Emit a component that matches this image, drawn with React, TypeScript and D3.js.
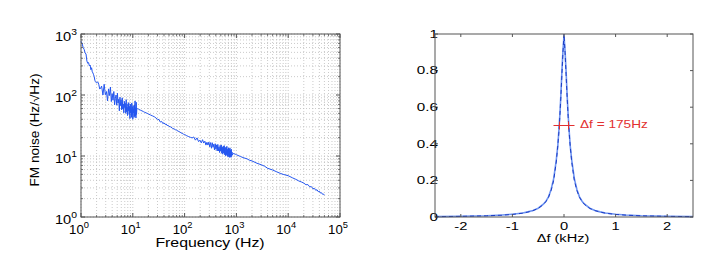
import React from 'react';
import * as d3 from 'd3';

// ---------- Left panel: FM noise spectrum (Hz/√Hz vs Hz) ----------
const freqA = [1, 1.05, 1.1, 1.15, 1.2, 1.25, 1.3, 1.35, 1.4, 1.45, 1.5, 1.55, 1.6, 1.65, 1.7, 1.75, 1.8, 1.85, 1.9, 1.95, 2.0, 2.1, 2.2, 2.3, 2.4];
const noiseA = [760, 700, 600, 560, 490, 470, 360, 330, 340, 300, 310, 260, 280, 240, 230, 215, 200, 175, 165, 160, 158, 165, 150, 125, 130];

const freqB = [2.5, 2.65, 2.8, 2.95, 3.1, 3.25, 3.4, 3.55, 3.7, 3.85, 4.0, 4.15, 4.3, 4.45, 4.6, 4.75, 4.9, 5.05, 5.2, 5.35, 5.5, 5.65, 5.8, 5.95, 6.1, 6.25, 6.4, 6.55, 6.7, 6.85, 7.0, 7.15, 7.3, 7.45, 7.6, 7.75, 7.9, 8.05, 8.2, 8.35, 8.5, 8.65, 8.8, 8.95, 9.1, 9.25, 9.4, 9.55, 9.7, 9.85, 10.0, 10.15, 10.3, 10.45, 10.6, 10.75, 10.9, 11.05, 11.2, 11.35, 11.5, 11.65, 11.8, 11.95];
const noiseB = [140, 100, 150, 101, 114, 80, 126, 98, 135, 78, 105, 82, 114, 69, 87, 100, 68, 107, 74, 85, 55, 92, 67, 83, 57, 90, 59, 71, 51, 79, 62, 73, 50, 84, 53, 63, 46, 72, 55, 75, 48, 65, 41, 71, 51, 60, 43, 74, 48, 64, 40, 67, 51, 59, 43, 69, 45, 80, 45, 62, 42, 76, 48, 58];

const freqC = [12.5, 13, 14, 15, 16, 17, 18, 19, 20, 22, 24, 26, 28, 30, 32, 34, 36, 38, 40, 42, 44, 46, 48, 50, 54, 58, 62, 66, 70, 75, 80, 85, 90, 95, 100, 110, 120, 130, 140];
const noiseC = [60, 58, 56.5, 55, 53.5, 52, 51, 50, 49, 47, 45.5, 44, 42, 40, 39.5, 36, 37, 34, 35, 33, 33.5, 31.5, 32, 30.5, 30, 28.5, 28, 27, 26.5, 25.5, 25, 24, 23.5, 22.8, 22.5, 21.5, 20.8, 20.2, 19.8];

const freqD = [150, 162, 174, 186, 198, 210, 222, 234, 246, 258, 270, 282, 294, 306, 318, 330, 342, 354, 366, 378, 390, 402, 414, 426, 438, 450, 462, 474, 486, 498, 510, 522, 534, 546, 558, 570, 582, 594, 606, 618, 630, 642, 654, 666, 678, 690, 702, 714, 726, 738, 750, 762, 774, 786, 798, 810, 822, 834];
const noiseD = [20.5, 18.2, 19.8, 17.2, 18.2, 16.4, 18.5, 16.3, 17.5, 15.1, 16.8, 15.1, 16.9, 14.1, 16.6, 13.4, 16.5, 13.9, 15.6, 12.6, 15.9, 12.9, 15.2, 12.1, 15.5, 12.1, 14.1, 11.4, 14.9, 12.0, 15.2, 11.1, 14.0, 10.7, 14.5, 11.2, 14.8, 10.5, 13.6, 10.1, 14.0, 10.5, 14.4, 10.0, 12.9, 9.6, 13.6, 10.1, 13.0, 9.5, 13.6, 9.7, 12.5, 9.5, 12.9, 9.9, 11.6, 10.4];

const freqE = [870, 950, 1000, 1200, 1400, 1600, 1800, 2000, 2500, 3000, 3500, 4000, 5000, 6000, 7000, 8000, 10000, 12000, 14000, 16000, 18000, 20000, 22000, 24000, 26000, 28000, 30000, 32000, 34000, 36000, 38000, 40000, 42000, 44000, 46000, 48000, 50000];
const noiseE = [11.0, 10.7, 10.5, 9.8, 9.3, 9.0, 8.5, 8.3, 7.6, 7.2, 6.8, 6.3, 5.9, 5.5, 5.2, 5.0, 4.75, 4.4, 4.15, 3.9, 3.75, 3.6, 3.38, 3.4, 3.12, 3.15, 2.9, 2.95, 2.74, 2.8, 2.6, 2.65, 2.47, 2.5, 2.36, 2.38, 2.28];

const leftXDecades = [0, 1, 2, 3, 4, 5];
const leftYDecades = [0, 1, 2, 3];

// ---------- Right panel: line shape vs detuning ----------
const detuning = [-2.5, -2.0, -1.5, -1.2, -1.0, -0.8, -0.7, -0.6, -0.5, -0.4, -0.35, -0.3, -0.25, -0.2, -0.15, -0.12, -0.1, -0.08, -0.06, -0.04, -0.02, 0, 0.02, 0.04, 0.06, 0.08, 0.1, 0.12, 0.15, 0.2, 0.25, 0.3, 0.35, 0.4, 0.5, 0.6, 0.7, 0.8, 1.0, 1.2, 1.5, 2.0, 2.5];
const lineMeasured = [0.002, 0.004, 0.007, 0.011, 0.015, 0.022, 0.028, 0.036, 0.048, 0.07, 0.086, 0.11, 0.15, 0.21, 0.31, 0.39, 0.47, 0.56, 0.67, 0.8, 0.91, 0.99, 0.91, 0.8, 0.67, 0.56, 0.47, 0.39, 0.31, 0.21, 0.15, 0.11, 0.086, 0.07, 0.048, 0.036, 0.028, 0.022, 0.015, 0.011, 0.007, 0.004, 0.002];
const lineFit = [0.002, 0.0035, 0.0065, 0.010, 0.014, 0.021, 0.027, 0.035, 0.047, 0.068, 0.085, 0.108, 0.145, 0.2, 0.30, 0.39, 0.46, 0.55, 0.66, 0.78, 0.9, 1.0, 0.9, 0.78, 0.66, 0.55, 0.46, 0.39, 0.30, 0.2, 0.145, 0.108, 0.085, 0.068, 0.047, 0.035, 0.027, 0.021, 0.014, 0.010, 0.0065, 0.0035, 0.002];
const fwhmEnds = [-0.0875, 0.0875];
const fwhmLevel = 0.5;
const fwhmLabel = '\u0394f = 175Hz';
const rightXTicks = [-2, -1, 0, 1, 2];
const rightYTicks = [0, 0.2, 0.4, 0.6, 0.8, 1];

const FONT = 'Liberation Sans, Arial, Helvetica, sans-serif';

function ST(props: any) {
  const { x, y, size, sx = 1.25, anchor = 'middle', fill = '#000', rotate = 0, children } = props;
  return (
    <text
      transform={`translate(${x},${y}) rotate(${rotate}) scale(${sx},1)`}
      textAnchor={anchor}
      fontSize={size}
      fill={fill}
      fontFamily={FONT}
    >
      {children}
    </text>
  );
}

export default function App() {
  const W = 723, H = 254;

  // left scales
  const lx = d3.scaleLog().domain([1, 1e5]).range([81, 340]);
  const ly = d3.scaleLog().domain([1, 1000]).range([217, 34]);
  const freq = [...freqA, ...freqB, ...freqC, ...freqD, ...freqE];
  const noise = [...noiseA, ...noiseB, ...noiseC, ...noiseD, ...noiseE];
  const pts: [number, number][] = freq.map((f, i) => [f, noise[i]]);
  const leftLine = d3.line<[number, number]>().x(d => lx(d[0])).y(d => ly(d[1]))(pts) || '';

  const xMinor: number[] = [];
  leftXDecades.slice(0, -1).forEach(k => { for (let m = 2; m <= 9; m++) xMinor.push(m * Math.pow(10, k)); });
  const yMinor: number[] = [];
  leftYDecades.slice(0, -1).forEach(k => { for (let m = 2; m <= 9; m++) yMinor.push(m * Math.pow(10, k)); });
  const xMajor = leftXDecades.map(k => Math.pow(10, k));
  const yMajor = leftYDecades.map(k => Math.pow(10, k));

  const [lx0, lx1] = lx.range();
  const [ly0, ly1] = ly.range();

  // right scales
  const rx = d3.scaleLinear().domain([-2.5, 2.5]).range([435, 693]);
  const ry = d3.scaleLinear().domain([0, 1]).range([217, 34]);
  const measPts: [number, number][] = detuning.map((d, i) => [d, lineMeasured[i]]);
  const fitPts: [number, number][] = detuning.map((d, i) => [d, lineFit[i]]);
  const rl = d3.line<[number, number]>().x(d => rx(d[0])).y(d => ry(d[1]));
  const [rx0, rx1] = rx.range();
  const [ry0, ry1] = ry.range();

  const grid = '#bdbdbd';
  const axisCol = '#555';

  return (
    <div style={{ position: 'absolute', left: 0, top: 0 }}>
      <svg width={W} height={H} style={{ display: 'block', background: '#fff' }}>
        {/* ---------- left panel ---------- */}
        <rect x={lx0} y={ly1} width={lx1 - lx0} height={ly0 - ly1} fill="#fff" />
        {[...xMinor, ...xMajor].map((v, i) => (
          <line key={'gx' + i} x1={lx(v)} x2={lx(v)} y1={ly0} y2={ly1} stroke={grid} strokeWidth={0.8} strokeDasharray="1 2" />
        ))}
        {[...yMinor, ...yMajor].map((v, i) => (
          <line key={'gy' + i} x1={lx0} x2={lx1} y1={ly(v)} y2={ly(v)} stroke={grid} strokeWidth={0.8} strokeDasharray="1 2" />
        ))}
        <path d={leftLine} fill="none" stroke="#2456f0" strokeWidth={1} strokeLinejoin="round" />
        {/* ticks */}
        {xMajor.map((v, i) => (
          <g key={'xt' + i}>
            <line x1={lx(v)} x2={lx(v)} y1={ly0} y2={ly0 - 4} stroke={axisCol} />
            <line x1={lx(v)} x2={lx(v)} y1={ly1} y2={ly1 + 4} stroke={axisCol} />
          </g>
        ))}
        {xMinor.map((v, i) => (
          <g key={'xm' + i}>
            <line x1={lx(v)} x2={lx(v)} y1={ly0} y2={ly0 - 2} stroke={axisCol} strokeWidth={0.8} />
            <line x1={lx(v)} x2={lx(v)} y1={ly1} y2={ly1 + 2} stroke={axisCol} strokeWidth={0.8} />
          </g>
        ))}
        {yMajor.map((v, i) => (
          <g key={'yt' + i}>
            <line x1={lx0} x2={lx0 + 4} y1={ly(v)} y2={ly(v)} stroke={axisCol} />
            <line x1={lx1} x2={lx1 - 4} y1={ly(v)} y2={ly(v)} stroke={axisCol} />
          </g>
        ))}
        {yMinor.map((v, i) => (
          <g key={'ym' + i}>
            <line x1={lx0} x2={lx0 + 2} y1={ly(v)} y2={ly(v)} stroke={axisCol} strokeWidth={0.8} />
            <line x1={lx1} x2={lx1 - 2} y1={ly(v)} y2={ly(v)} stroke={axisCol} strokeWidth={0.8} />
          </g>
        ))}
        <rect x={lx0} y={ly1} width={lx1 - lx0} height={ly0 - ly1} fill="none" stroke={axisCol} strokeWidth={1} />
        {/* tick labels */}
        {leftXDecades.map(k => (
          <ST key={'xl' + k} x={lx(Math.pow(10, k)) - 2} y={234} size={12} sx={1.1}>
            <tspan>10</tspan>
            <tspan dy={-6} fontSize={8.5}>{k}</tspan>
          </ST>
        ))}
        {leftYDecades.map(k => (
          <ST key={'yl' + k} x={77} y={ly(Math.pow(10, k)) + 6.5} size={12} sx={1.22} anchor="end">
            <tspan>10</tspan>
            <tspan dy={-6} fontSize={8.5}>{k}</tspan>
          </ST>
        ))}
        <ST x={210} y={247} size={12.5} sx={1.27}>Frequency (Hz)</ST>
        <ST x={38.5} y={130} size={12} sx={1.13} rotate={-90}>FM noise (Hz/√Hz)</ST>

        {/* ---------- right panel ---------- */}
        <rect x={rx0} y={ry1} width={rx1 - rx0} height={ry0 - ry1} fill="#fff" />
        <path d={rl(measPts) || ''} fill="none" stroke="#6f95f2" strokeWidth={1.6} />
        <path d={rl(fitPts) || ''} fill="none" stroke="#1c3cc4" strokeWidth={1} strokeDasharray="4 3" />
        {/* FWHM marker */}
        <line x1={rx(fwhmEnds[0])} x2={rx(fwhmEnds[1])} y1={ry(fwhmLevel)} y2={ry(fwhmLevel)} stroke="#e23030" strokeWidth={1} />
        {fwhmEnds.map((e, i) => (
          <g key={'pm' + i}>
            <line x1={rx(e) - 6} x2={rx(e) + 6} y1={ry(fwhmLevel)} y2={ry(fwhmLevel)} stroke="#e23030" strokeWidth={1} />
            <line x1={rx(e)} x2={rx(e)} y1={ry(fwhmLevel) - 4} y2={ry(fwhmLevel) + 4} stroke="#e23030" strokeWidth={1} />
          </g>
        ))}
        <ST x={580} y={127.5} size={10.5} sx={1.3} anchor="start" fill="#e23030">{fwhmLabel}</ST>
        {/* ticks */}
        {rightXTicks.map((v, i) => (
          <g key={'rxt' + i}>
            <line x1={rx(v)} x2={rx(v)} y1={ry0} y2={ry0 - 3} stroke={axisCol} />
            <line x1={rx(v)} x2={rx(v)} y1={ry1} y2={ry1 + 3} stroke={axisCol} />
            <ST x={rx(v)} y={230} size={10.5} sx={1.4}>{String(v)}</ST>
          </g>
        ))}
        {rightYTicks.map((v, i) => (
          <g key={'ryt' + i}>
            <line x1={rx0} x2={rx0 + 3} y1={ry(v)} y2={ry(v)} stroke={axisCol} />
            <line x1={rx1} x2={rx1 - 3} y1={ry(v)} y2={ry(v)} stroke={axisCol} />
            <ST x={438} y={ry(v) + 3.8} size={10.5} sx={1.45} anchor="end">{String(v)}</ST>
          </g>
        ))}
        <rect x={rx0} y={ry1} width={rx1 - rx0} height={ry0 - ry1} fill="none" stroke={axisCol} strokeWidth={1} />
        <ST x={563} y={242} size={11.5} sx={1.27}>Δf (kHz)</ST>
      </svg>
    </div>
  );
}
